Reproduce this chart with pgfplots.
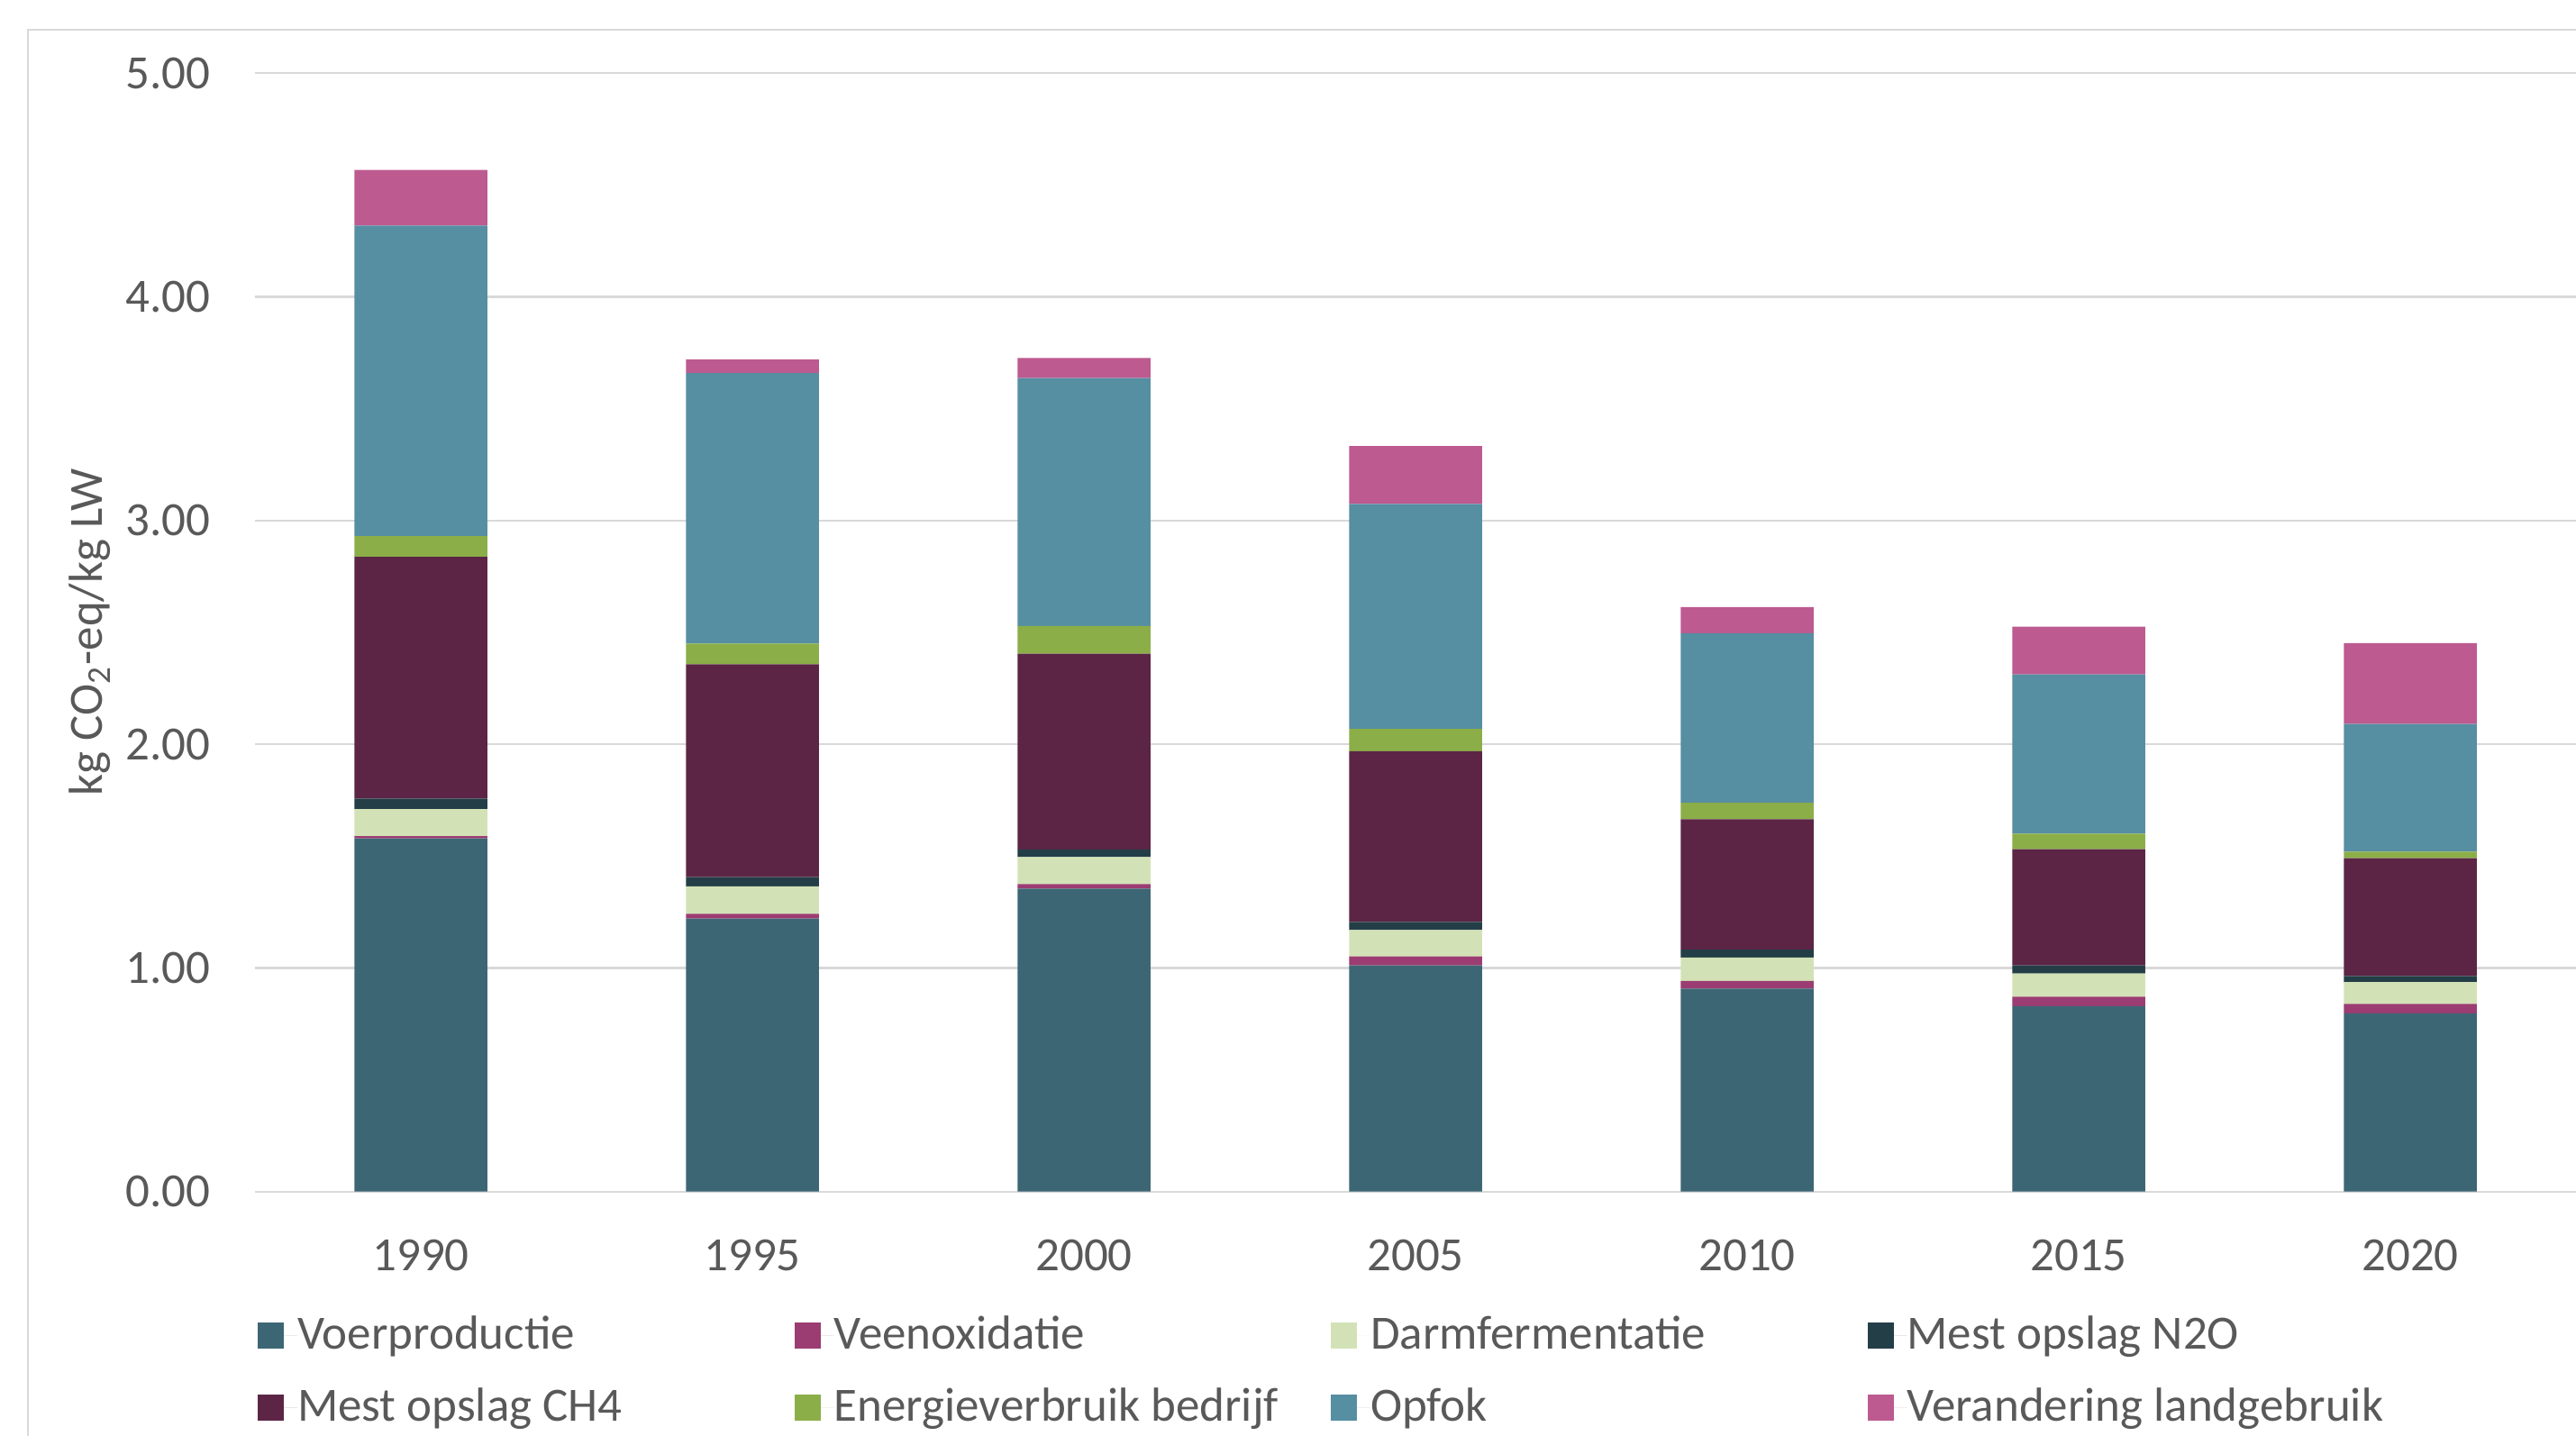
\documentclass[border=0pt]{standalone}
\usepackage{fontspec}
\setmainfont{Carlito}
\usepackage{pgfplots}
\pgfplotsset{compat=1.18}
\usepackage{pgfplotstable}

\definecolor{cVoer}{HTML}{3D6674}
\definecolor{cVeen}{HTML}{9B3D72}
\definecolor{cDarm}{HTML}{D3E2B6}
\definecolor{cNtwo}{HTML}{243E47}
\definecolor{cCH}{HTML}{5C2545}
\definecolor{cEnergie}{HTML}{8BAE48}
\definecolor{cOpfok}{HTML}{568EA2}
\definecolor{cLand}{HTML}{BD5A90}
\definecolor{txt}{HTML}{595959}
\definecolor{gridc}{HTML}{D9D9D9}

\newcommand\lfont{\fontsize{10.6pt}{12.7pt}\selectfont}

\pgfplotstableread{
x voer veen darm ntwo ch energie opfok land
0 1.579 0.010 0.121 0.047 1.081 0.092 1.389 0.248
1 1.221 0.021 0.123 0.041 0.951 0.093 1.209 0.062
2 1.355 0.020 0.120 0.035 0.875 0.123 1.109 0.090
3 1.011 0.040 0.118 0.037 0.763 0.099 1.006 0.259
4 0.907 0.035 0.104 0.036 0.583 0.073 0.758 0.117
5 0.829 0.042 0.104 0.036 0.520 0.069 0.712 0.213
6 0.797 0.042 0.098 0.027 0.526 0.030 0.571 0.361
}\datatable

\pgfplotsset{
  sqlegend/.style={legend image code/.code={
    \fill[##1] (0pt,-2.9pt) rectangle (5.8pt,2.9pt);
    \path (0pt,0pt) -- (8.8pt,0pt);
  }},
}

\begin{document}
\begin{tikzpicture}
\begin{axis}[
  at={(56.6pt,54.06pt)}, anchor=south west,
  scale only axis, width=515.2pt, height=248.3pt,
  ybar stacked, bar width=29.5pt,
  xmin=-0.5, xmax=6.5, ymin=0, ymax=5,
  xtick={0,1,2,3,4,5,6},
  xticklabels={1990,1995,2000,2005,2010,2015,2020},
  ytick={0,1,2,3,4,5},
  ymajorgrids, grid style={draw=gridc, line width=0.45pt},
  axis line style={draw=none},
  major tick length=0pt,
  tick label style={font=\lfont, text=txt},
  /pgf/number format/assume math mode=true,
  yticklabel style={/pgf/number format/fixed, /pgf/number format/fixed zerofill, /pgf/number format/precision=2, anchor=east, xshift=-6.4pt},
  xticklabel style={yshift=-7.2pt},
  ylabel={kg CO\textsubscript{2}-eq/kg LW},
  every axis y label/.style={at={(axis description cs:-0.071,0.5)}, anchor=center, rotate=90, font=\lfont, text=txt},
  legend columns=4,
  legend cell align=left,
  legend style={at={(axis description cs:0.0012,-0.1610)}, anchor=west, draw=none, fill=none, inner sep=0pt, outer sep=0pt, font=\lfont, text=txt, /tikz/column sep=0pt, /tikz/row sep=6pt, nodes={inner sep=0pt, text height=8pt, text depth=2pt}},
  every axis plot post/.append style={sqlegend},
]
\addplot[fill=cVoer, draw=none] table[x=x, y=voer] {\datatable};
\addlegendentry{\makebox[110.3pt][l]{Voerproductie}}
\addplot[fill=cVeen, draw=none] table[x=x, y=veen] {\datatable};
\addlegendentry{\makebox[110.3pt][l]{Veenoxidatie}}
\addplot[fill=cDarm, draw=none] table[x=x, y=darm] {\datatable};
\addlegendentry{\makebox[110.3pt][l]{Darmfermentatie}}
\addplot[fill=cNtwo, draw=none] table[x=x, y=ntwo] {\datatable};
\addlegendentry{\makebox[110.3pt][l]{Mest opslag N2O}}
\addplot[fill=cCH, draw=none] table[x=x, y=ch] {\datatable};
\addlegendentry{\makebox[110.3pt][l]{Mest opslag CH4}}
\addplot[fill=cEnergie, draw=none] table[x=x, y=energie] {\datatable};
\addlegendentry{\makebox[110.3pt][l]{Energieverbruik bedrijf}}
\addplot[fill=cOpfok, draw=none] table[x=x, y=opfok] {\datatable};
\addlegendentry{\makebox[110.3pt][l]{Opfok}}
\addplot[fill=cLand, draw=none] table[x=x, y=land] {\datatable};
\addlegendentry{\makebox[110.3pt][l]{Verandering landgebruik}}
\end{axis}
\draw[gridc, line width=0.55pt] (6.2pt,-5pt) -- (6.2pt,312pt) -- (580pt,312pt);
\pgfresetboundingbox
\useasboundingbox (0pt,0pt) rectangle (571.8pt,318.6pt);
\end{tikzpicture}
\end{document}
